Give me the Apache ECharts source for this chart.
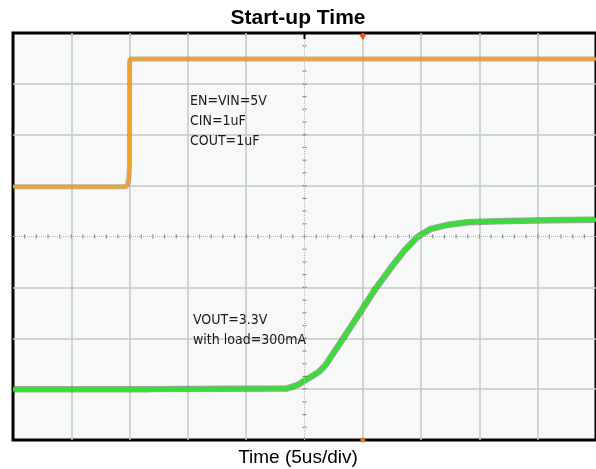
<!DOCTYPE html>
<html><head><meta charset="utf-8">
<script src="https://cdn.jsdelivr.net/npm/echarts@6/dist/echarts.min.js"></script>
<style>html,body{margin:0;padding:0;background:#fff}#c{width:596px;height:469px}</style>
</head><body><div id="c"></div>
<script>
// Time in microseconds relative to screen centre (5 us/div), level in divisions relative to centre
const enTime   = [-25, -20, -15.3, -15.17, -15.07, -15.01, -15.0, -14.96, -10, 0, 10, 25];
const enLevel  = [0.98, 0.98, 0.98, 1.03, 1.15, 1.4, 3.42, 3.49, 3.49, 3.49, 3.49, 3.49];
const voutTime  = [-25, -13.3, -1.54, -0.51, 0.09, 0.77, 1.28, 1.79, 3.33, 6.14, 7.59, 8.59, 9.73, 10.84, 12.29, 14.0, 16.55, 20.82, 25];
const voutLevel = [-3.0, -3.0, -2.99, -2.91, -2.82, -2.73, -2.65, -2.53, -2.0, -1.01, -0.56, -0.27, 0.0, 0.15, 0.23, 0.28, 0.30, 0.32, 0.33];
const xRange = [-25, 25], xStep = 5, xMinorPerDiv = 5;   // 10 divisions
const yRange = [-4, 4], yStep = 1, yMinorPerDiv = 4;     // 8 divisions
const triggerTime = 5;
const titleText = 'Start-up Time';
const xLabel = 'Time (5us/div)';
const noteEN = ['EN=VIN=5V', 'CIN=1uF', 'COUT=1uF'];
const noteOut = ['VOUT=3.3V', 'with load=300mA'];

const pairs = (a, b) => a.map((t, i) => [t, b[i]]);
const enData = pairs(enTime, enLevel);
const voutData = pairs(voutTime, voutLevel);

// centre graticule tick marks, derived from the axis scale
const xTickData = [], yTickData = [];
for (let k = 1; k < (xRange[1] - xRange[0]) / xStep * xMinorPerDiv; k++) {
  xTickData.push([xRange[0] + k * xStep / xMinorPerDiv, 0]);
}
for (let k = 1; k < (yRange[1] - yRange[0]) / yStep * yMinorPerDiv; k++) {
  yTickData.push([0, yRange[0] + k * yStep / yMinorPerDiv]);
}

const gridCol = '#c5c8c5', clear = 'rgba(0,0,0,0)';
const nx = Math.round((xRange[1] - xRange[0]) / xStep) + 1;
const ny = Math.round((yRange[1] - yRange[0]) / yStep) + 1;
const xCols = Array.from({length: nx}, (_, i) => (i === (nx - 1) / 2 || i === 0 || i === nx - 1) ? clear : gridCol);
const yCols = Array.from({length: ny}, (_, i) => (i === (ny - 1) / 2 || i === 0 || i === ny - 1) ? clear : gridCol);

const chart = echarts.init(document.getElementById('c'));
const textFont = '"DejaVu Sans Condensed", "DejaVu Sans"';
const axisCommon = {
  type: 'value', axisLabel: {show: false}, axisLine: {show: false},
  axisTick: {show: false}, minorTick: {show: false}
};
chart.setOption({
  animation: false,
  backgroundColor: '#ffffff',
  title: [
    {text: titleText, left: 'center', top: 3,
     textStyle: {fontFamily: 'Liberation Sans, Arial', fontWeight: 'bold', fontSize: 21, color: '#000'}},
    {text: xLabel, left: 'center', top: 443,
     textStyle: {fontFamily: 'Liberation Sans, Arial', fontWeight: 'normal', fontSize: 19, color: '#000'}}
  ],
  grid: {left: 13, top: 33, width: 586, height: 407, show: true,
         backgroundColor: '#f6f9f7', borderColor: '#000', borderWidth: 3},
  xAxis: Object.assign({}, axisCommon, {min: xRange[0], max: xRange[1], interval: xStep,
    splitLine: {show: true, lineStyle: {color: xCols, width: 1.5}}}),
  yAxis: Object.assign({}, axisCommon, {min: yRange[0], max: yRange[1], interval: yStep,
    splitLine: {show: true, lineStyle: {color: yCols, width: 1.5}}}),
  series: [
    {type: 'scatter', data: xTickData, silent: true, z: 2, symbol: 'rect', symbolSize: [1.2, 4],
     itemStyle: {color: '#707070'},
     markLine: {silent: true, symbol: 'none', label: {show: false},
       lineStyle: {color: '#b8b8b8', type: 'dotted', width: 1},
       data: [{xAxis: 0}, {yAxis: 0}]}},
    {type: 'scatter', data: yTickData, silent: true, z: 2, symbol: 'rect', symbolSize: [4, 1.2],
     itemStyle: {color: '#707070'}},
    {type: 'line', data: enData, showSymbol: false, silent: true, z: 3,
     lineStyle: {color: '#7a5a1e', width: 5, opacity: 0.45}},
    {type: 'line', data: enData, showSymbol: false, silent: true, z: 4,
     lineStyle: {color: '#f2a228', width: 3},
     markPoint: {silent: true, label: {show: false}, data: [
       {coord: [triggerTime, yRange[1]], symbol: 'triangle', symbolRotate: 180, symbolSize: [8, 6], symbolOffset: [0, 4], itemStyle: {color: '#e8541c'}},
       {coord: [triggerTime, yRange[0]], symbol: 'circle', symbolSize: 5, itemStyle: {color: '#e07a20'}},
       {coord: [0, yRange[1]], symbol: 'rect', symbolSize: [2, 6], symbolOffset: [0, 3], itemStyle: {color: '#000'}}
     ]}},
    {type: 'line', data: voutData, showSymbol: false, silent: true, z: 3,
     lineStyle: {color: '#2e5e22', width: 6.5, opacity: 0.5}},
    {type: 'line', data: voutData, showSymbol: false, silent: true, z: 4,
     lineStyle: {color: '#33e033', width: 4}}
  ],
  graphic: [
    {type: 'text', left: 190, top: 91, z: 10,
     style: {text: noteEN.join('\n'), font: '14px ' + textFont, fill: '#1a1a1a', lineHeight: 20}},
    {type: 'text', left: 193, top: 310, z: 10,
     style: {text: noteOut.join('\n'), font: '14px ' + textFont, fill: '#1a1a1a', lineHeight: 20}}
  ]
});
</script></body></html>
